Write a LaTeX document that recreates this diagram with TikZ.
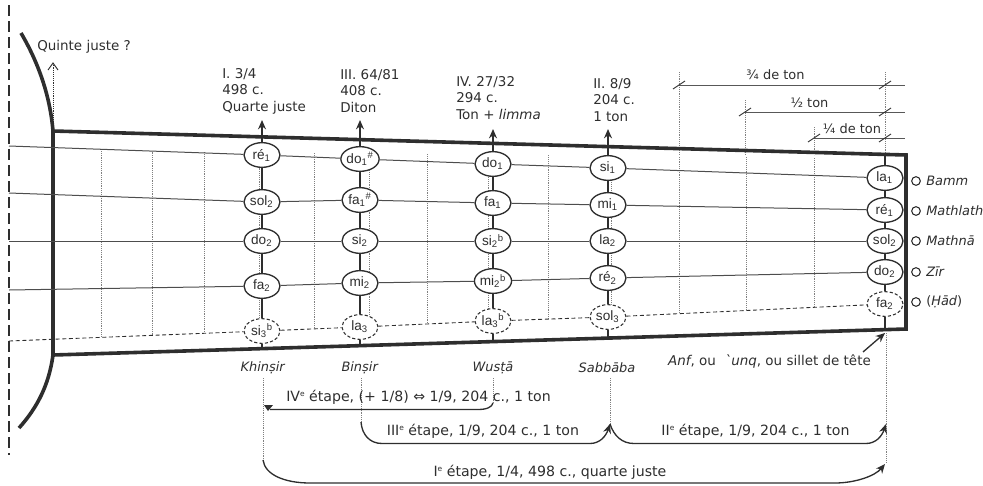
\documentclass[tikz,border=0pt]{standalone}
\usepackage{fontspec}
\setmainfont{DejaVu Sans}
\newfontfamily\notefont{Liberation Sans}
\usetikzlibrary{arrows.meta,shapes.geometric}
\definecolor{ink}{HTML}{2E2E2E}
\newcommand{\nt}[3][]{#2\textsubscript{#3}\textsuperscript{#1}}
\newcommand{\ord}{\raisebox{3.6pt}{\fontsize{5.6}{6}\selectfont e}}
\tikzset{
  x=0.75pt,y=-0.75pt,
  lbl/.style={inner sep=0pt,text=ink,font=\fontsize{10.1}{12.4}\selectfont,align=left,anchor=west},
  lblc/.style={inner sep=0pt,text=ink,font=\fontsize{9.7}{12.4}\selectfont},
  lblw/.style={inner sep=0pt,text=ink,font=\fontsize{10.6}{12.4}\selectfont},
  note/.style={ellipse,draw=ink,line width=1pt,fill=white,inner sep=0pt,minimum width=27pt,minimum height=18.5pt,text=ink,font=\notefont\fontsize{10.2}{11}\selectfont},
  dnote/.style={note,line width=0.8pt,dash pattern=on 2.4pt off 1.6pt},
  frame/.style={draw=ink,line width=2.7pt},
  bar/.style={draw=ink,line width=2pt},
  strg/.style={draw=ink!85,line width=0.75pt},
  dstrg/.style={draw=ink,line width=0.65pt,dash pattern=on 3pt off 2pt},
  fret/.style={draw=gray,line width=0.6pt,dash pattern=on 0.7pt off 0.7pt},
  dim/.style={draw=ink!80,line width=0.7pt},
  tick/.style={draw=ink,line width=0.7pt},
  step line/.style={draw=ink,line width=1pt},
  step arrow/.style={step line,-{Stealth[length=7pt,width=6pt]}},
  peg/.style={circle,draw=ink,line width=0.8pt,minimum size=6.5pt,inner sep=0pt},
  tip/.style={-{Stealth[length=7pt,width=6pt]}}
}
\begin{document}
\begin{tikzpicture}
\useasboundingbox (0,0) rectangle (983,486);
% dashed nut line
\draw[ink,line width=1.4pt,dash pattern=on 8pt off 4pt] (9,5) -- (9,455);
% fret lines
\foreach \x in {101,152,204,259,314,369,427,488,548,611,679,746,814}{
  \draw[fret] (\x,{150+(\x/100)}) -- (\x,{341-(\x-9)*0.042});
}
\foreach \x/\t in {679/72,745/100,814/127,885/72}{\draw[fret] (\x,\t) -- (\x,155);}
% frame
\draw[frame,line join=miter] (21,33) .. controls (38,62) and (50,95) .. (53,131) -- (906,155) -- (906,329) -- (53,355) .. controls (49,385) and (37,408) .. (19,428);
\draw[frame] (53,131) -- (53,355);
% notes
\foreach \n/\x/\y/\t/\s/\k in {
 a1/262/155/ré/1/,a2/262/202/sol/2/,a3/262/241/do/2/,a4/262/286/fa/2/,
 b1/360/159/do/1/\#,b2/360/200/fa/1/\#,b3/360/241/si/2/,b4/360/283/mi/2/,
 c1/493/164/do/1/,c2/493/203/fa/1/,c3/493/241/si/2/b,c4/493/281/mi/2/b,
 d1/608/168/si/1/,d2/608/205/mi/1/,d3/608/241/la/2/,d4/608/278/ré/2/,
 e1/885/178/la/1/,e2/885/210/ré/1/,e3/885/241/sol/2/,e4/885/272/do/2/}{
  \node[note] (\n) at (\x,\y) {\nt[\k]{\t}{\s}};
}
\foreach \n/\x/\y/\t/\s/\k in {a5/262/331/si/3/b,b5/360/327/la/3/,c5/493/321/la/3/b,d5/608/317/sol/3/,e5/885/304/fa/2/}{
  \node[dnote] (\n) at (\x,\y) {\nt[\k]{\t}{\s}};
}
% string ends and fret ends
\coordinate (s1) at (9,146);
\coordinate (s2) at (9,193);
\coordinate (s3) at (9,241);
\coordinate (s4) at (9,290);
\coordinate (s5) at (9,341);
\foreach \i in {1,2,3,4}{
  \draw[strg] (s\i) -- (a\i) (a\i) -- (b\i) (b\i) -- (c\i) (c\i) -- (d\i) (d\i) -- (e\i);
}
\draw[dstrg] (s5) -- (a5) (a5) -- (b5) (b5) -- (c5) (c5) -- (d5) (d5) -- (e5);
% thick frets with arrows
\coordinate (ta) at (262,120); \coordinate (tb) at (360,120); \coordinate (tc) at (493,129); \coordinate (td) at (608,129); \coordinate (te) at (885,155);
\coordinate (ba) at (262,349); \coordinate (bb) at (360,346); \coordinate (bc) at (493,342); \coordinate (bd) at (608,338); \coordinate (be) at (885,330);
\foreach \c in {a,b,c,d}{
  \draw[bar,line width=1.6pt,tip] (\c1) -- (t\c);
}
\draw[bar] (e1) -- (te);
\foreach \c in {a,b,c,d,e}{
  \draw[bar] (\c1) -- (\c2) (\c2) -- (\c3) (\c3) -- (\c4) (\c4) -- (\c5) (\c5) -- (b\c);
}
% quinte
\node[lbl] (q) at (37,47) {Quinte juste ?};
\coordinate (q0) at (53,131);
\coordinate (q1) at (53,62);
\draw[fret,draw=ink] (q0) -- (q1);
\draw[ink,line width=0.7pt] (48,70) -- (53,63) -- (58,70);
% interval labels
\node[lbl] (l1) at (222,91) {I. 3/4\\498 c.\\Quarte juste};
\node[lbl] (l2) at (340,91) {III. 64/81\\408 c.\\Diton};
\node[lbl] (l3) at (456,98) {IV. 27/32\\294 c.\\Ton + \textit{limma}};
\node[lbl] (l4) at (593,100) {II. 8/9\\204 c.\\1 ton};
% dimension lines
\foreach \y/\x in {85/679,112/745,138/814}{
  \draw[dim] (\x,\y) -- (905,\y);
  \draw[tick] (\x-6,\y+4) -- (\x+6,\y-4);
  \draw[tick] (885-6,\y+4) -- (885+6,\y-4);
}
\node[lblc] (t1) at (775.5,75) {¾ de ton};
\node[lblc] (t2) at (809.5,103) {½ ton};
\node[lblc] (t3) at (852,129) {¼ de ton};
% pegs
\foreach \n/\y/\t in {p1/181/\textit{Bamm},p2/211/\textit{Mathlath},p3/241/\textit{Mathnā},p4/272/\textit{Zīr},p5/302/(\textit{Ḥād})}{
  \node[peg] (\n) at (916,\y) {};
  \node[lblc,anchor=west] at (926,\y) {\t};
}
% lower names
\node[lblc] (nA) at (263,368) {\textit{Khinṣir}};
\node[lblc] (nB) at (360,368) {\textit{Binṣir}};
\node[lblc] (nC) at (493,368) {\textit{Wusṭā}};
\node[lblc] (nD) at (607,368) {\textit{Sabbāba}};
\node[lbl,anchor=center] (nE) at (769.5,361) {\textit{Anf}, ou ~\textit{\textasciigrave unq}, ou sillet de tête};
\coordinate (nut) at (885,333);
\draw[ink,line width=1pt,tip] (863,352) -- (nut);
% dotted leaders
\draw[fret] (263,378) -- (263,460);
\draw[fret] (361,378) -- (361,422);
\draw[fret] (493,378) -- (493,403);
\draw[fret] (610,378) -- (610,423);
\draw[fret] (886,333) -- (886,463);
% step curves
\draw[step line] (493,403) .. controls (492,407) and (487,409.5) .. (478,409.5) -- (270,409.5);
\fill[ink] (264,405) -- (273,405) -- (268,411) -- cycle;
\draw[step arrow] (361,422) .. controls (362,435) and (370,443.5) .. (382,443.5) -- (590,443.5) .. controls (600,443.5) and (606,436) .. (610,424);
\draw[step arrow] (610,424) .. controls (614,436) and (622,443.5) .. (634,443.5) -- (866,443.5) .. controls (876,443.5) and (882,436) .. (886,424);
\draw[step arrow] (263,460) .. controls (265,475) and (285,483) .. (310,483) -- (835,483) .. controls (855,483) and (875,476) .. (885,464);
% step labels
\node[lblw] (i4) at (418.5,397) {IV\ord{} étape, (+ 1/8) ⇔ 1/9, 204 c., 1 ton};
\node[lblw] (i3) at (483,431.5) {III\ord{} étape, 1/9, 204 c., 1 ton};
\node[lblw] (i2) at (755.5,431) {II\ord{} étape, 1/9, 204 c., 1 ton};
\node[lblw] (i1) at (550,472) {I\ord{} étape, 1/4, 498 c., quarte juste};
\end{tikzpicture}
\end{document}
